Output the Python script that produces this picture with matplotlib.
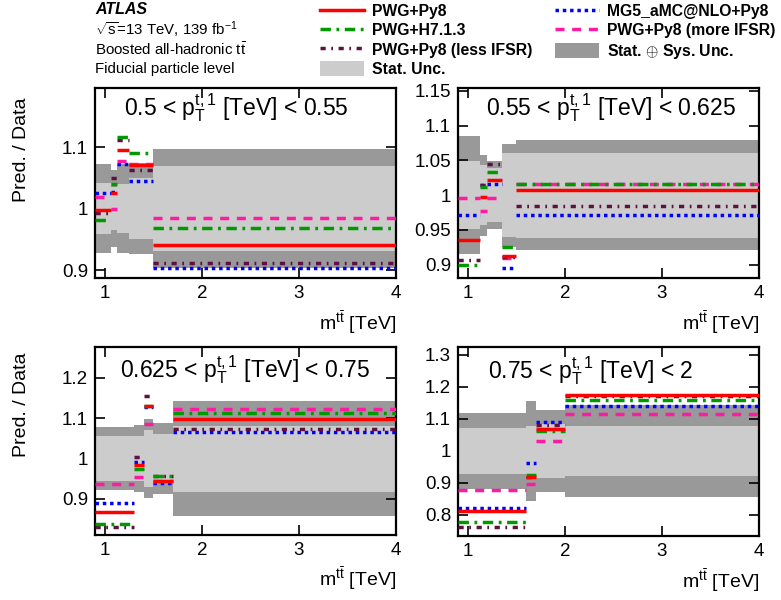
import matplotlib
matplotlib.use('Agg')
import matplotlib.pyplot as plt
from matplotlib.patches import Patch
from matplotlib.lines import Line2D
from matplotlib.ticker import FormatStrFormatter

plt.rcParams['font.family'] = ['Liberation Sans', 'DejaVu Sans']
plt.rcParams['mathtext.fontset'] = 'custom'
plt.rcParams['mathtext.rm'] = 'Liberation Sans'
plt.rcParams['mathtext.it'] = 'Liberation Sans:italic'
plt.rcParams['mathtext.bf'] = 'Liberation Sans:bold'

# ---- data: ratio prediction / data in bins of m(tt) for 4 leading-top pT bins ----
edges_1 = [0.9, 1.06, 1.13, 1.25, 1.5, 4.0]
tot_1 = [0.073, 0.062, 0.073, 0.074, 0.096]
stat_1 = [0.041, 0.035, 0.040, 0.050, 0.069]
py8_1 = [0.998, 1.026, 1.095, 1.071, 0.940]
h7_1 = [0.981, 1.040, 1.117, 1.090, 0.969]
less_1 = [0.993, 1.049, 1.111, 1.063, 0.912]
mg5_1 = [1.026, 1.027, 1.073, 1.044, 0.903]
more_1 = [1.019, 1.000, 1.077, 1.072, 0.984]

edges_2 = [0.9, 1.13, 1.2, 1.35, 1.5, 4.0]
tot_2 = [0.085, 0.058, 0.049, 0.074, 0.079]
stat_2 = [0.049, 0.043, 0.039, 0.060, 0.061]
py8_2 = [0.936, 0.997, 1.022, 0.913, 1.008]
h7_2 = [0.900, 1.012, 1.033, 0.926, 1.016]
less_2 = [0.907, 1.015, 1.045, 0.911, 0.984]
mg5_2 = [0.971, 1.015, 1.016, 0.895, 0.971]
more_2 = [0.996, 0.977, 0.996, 0.910, 1.016]

edges_3 = [0.9, 1.3, 1.4, 1.5, 1.7, 4.0]
tot_3 = [0.079, 0.084, 0.098, 0.088, 0.144]
stat_3 = [0.055, 0.056, 0.070, 0.062, 0.082]
py8_3 = [0.868, 0.983, 1.131, 0.944, 1.097]
h7_3 = [0.838, 0.974, 1.130, 0.957, 1.114]
less_3 = [0.831, 1.003, 1.155, 0.957, 1.073]
mg5_3 = [0.889, 0.992, 1.127, 0.940, 1.067]
more_3 = [0.936, 0.955, 1.086, 0.944, 1.122]

edges_4 = [0.9, 1.6, 1.7, 2.0, 4.0]
tot_4 = [0.120, 0.155, 0.129, 0.143]
stat_4 = [0.072, 0.078, 0.084, 0.079]
py8_4 = [0.813, 0.920, 1.069, 1.175]
h7_4 = [0.779, 0.925, 1.063, 1.159]
less_4 = [0.761, 0.920, 1.081, 1.172]
mg5_4 = [0.821, 0.961, 1.089, 1.141]
more_4 = [0.878, 0.896, 1.031, 1.116]

pt_labels = [r'0.5 < $\mathrm{p_{T}^{t,1}}$ [TeV] < 0.55',
             r'0.55 < $\mathrm{p_{T}^{t,1}}$ [TeV] < 0.625',
             r'0.625 < $\mathrm{p_{T}^{t,1}}$ [TeV] < 0.75',
             r'0.75 < $\mathrm{p_{T}^{t,1}}$ [TeV] < 2']

panels = [
    (edges_1, tot_1, stat_1, py8_1, h7_1, less_1, mg5_1, more_1),
    (edges_2, tot_2, stat_2, py8_2, h7_2, less_2, mg5_2, more_2),
    (edges_3, tot_3, stat_3, py8_3, h7_3, less_3, mg5_3, more_3),
    (edges_4, tot_4, stat_4, py8_4, h7_4, less_4, mg5_4, more_4),
]

# ---- layout / style ----
ylims = [(0.887, 1.196), (0.881, 1.154), (0.810, 1.277), (0.734, 1.325)]
yticks = [[0.9, 1.0, 1.1],
          [0.9, 0.95, 1.0, 1.05, 1.1, 1.15],
          [0.9, 1.0, 1.1, 1.2],
          [0.8, 0.9, 1.0, 1.1, 1.2, 1.3]]
ax_rects = [[95/781, 1-278/600, 301/781, 190/600],
            [458/781, 1-278/600, 301/781, 190/600],
            [95/781, 1-535/600, 301/781, 188/600],
            [458/781, 1-536/600, 301/781, 189/600]]
label_pos = [(0.47, 0.895), (0.51, 0.895), (0.50, 0.878), (0.44, 0.878)]

col_dark = '#999999'
col_light = '#cccccc'
styles = {
    'py8': dict(color='#ff0000', ls='-', label='PWG+Py8'),
    'h7': dict(color='#009900', ls=(0, (3.0, 1.6, 0.8, 1.6)), label='PWG+H7.1.3'),
    'less': dict(color='#5e1040', ls=(0, (1.5, 1.6, 0.5, 1.6)), label='PWG+Py8 (less IFSR)'),
    'mg5': dict(color='#0000ff', ls=(0, (1.0, 1.1)), label='MG5_aMC@NLO+Py8'),
    'more': dict(color='#ff1aa3', ls=(0, (2.6, 2.2)), label='PWG+Py8 (more IFSR)'),
}
lw = 2.5

fig = plt.figure(figsize=(7.81, 6.0), dpi=100)

for i, (edges, tot, stat, py8, h7, less, mg5, more) in enumerate(panels):
    ax = fig.add_axes(ax_rects[i])
    lo = edges[:-1]
    hi = edges[1:]
    widths = [b - a for a, b in zip(lo, hi)]
    ax.bar(lo, [2 * u for u in tot], width=widths, bottom=[1 - u for u in tot],
           align='edge', color=col_dark, linewidth=0, zorder=1)
    ax.bar(lo, [2 * u for u in stat], width=widths, bottom=[1 - u for u in stat],
           align='edge', color=col_light, linewidth=0, zorder=2)
    for key, vals in [('mg5', mg5), ('more', more), ('less', less), ('h7', h7), ('py8', py8)]:
        st = styles[key]
        ax.hlines(vals, lo, hi, colors=st['color'], linestyles=[st['ls']],
                  linewidth=lw, zorder=3)
    ax.set_xlim(0.9, 4.0)
    ax.set_ylim(*ylims[i])
    ax.set_xticks([1, 2, 3, 4])
    ax.set_yticks(yticks[i])
    ax.yaxis.set_major_formatter(FormatStrFormatter('%g'))
    ax.tick_params(direction='in', top=True, right=True, length=7, width=1.2,
                   labelsize=13.5, pad=5)
    for sp in ax.spines.values():
        sp.set_linewidth(1.6)
    ax.text(label_pos[i][0], label_pos[i][1], pt_labels[i], transform=ax.transAxes,
            ha='center', va='center', fontsize=16.5, zorder=5)
    ax.text(1.0, -0.235, r'$\mathrm{m^{t\bar{t}}}$ [TeV]', transform=ax.transAxes,
            ha='right', va='center', fontsize=14)

fig.text(0.028, 1 - 150/600, 'Pred. / Data', rotation=90, ha='center', va='center', fontsize=14)
fig.text(0.028, 1 - 405/600, 'Pred. / Data', rotation=90, ha='center', va='center', fontsize=14)

# ---- header text ----
fig.text(95/781, 1 - 10/600, 'ATLAS', fontsize=11.5, weight='bold', style='italic', va='center')
fig.text(95/781, 1 - 30/600, r'$\sqrt{\mathrm{s}}$=13 TeV, 139 fb$^{-1}$', fontsize=10.8, va='center')
fig.text(95/781, 1 - 50/600, r'Boosted all-hadronic $\mathrm{t\bar{t}}$', fontsize=10.8, va='center')
fig.text(95/781, 1 - 69/600, 'Fiducial particle level', fontsize=10.8, va='center')

# ---- legend ----
def line_handle(key):
    st = styles[key]
    return Line2D([], [], color=st['color'], ls=st['ls'], lw=lw, label=st['label'])

handles = [line_handle('py8'), line_handle('h7'), line_handle('less'),
           Patch(facecolor=col_light, edgecolor='none', label='Stat. Unc.'),
           line_handle('mg5'), line_handle('more'),
           Patch(facecolor=col_dark, edgecolor='none', label='Stat. $\\oplus$ Sys. Unc.')]
fig.legend(handles=handles, loc='upper left', bbox_to_anchor=(314/781, 1.005), ncol=2,
           frameon=False, handlelength=2.8, handleheight=1.1, handletextpad=0.5,
           labelspacing=0.22, columnspacing=1.45, borderaxespad=0.0,
           prop=dict(size=11.3, weight='bold'))

fig.savefig('out.png', dpi=100)
